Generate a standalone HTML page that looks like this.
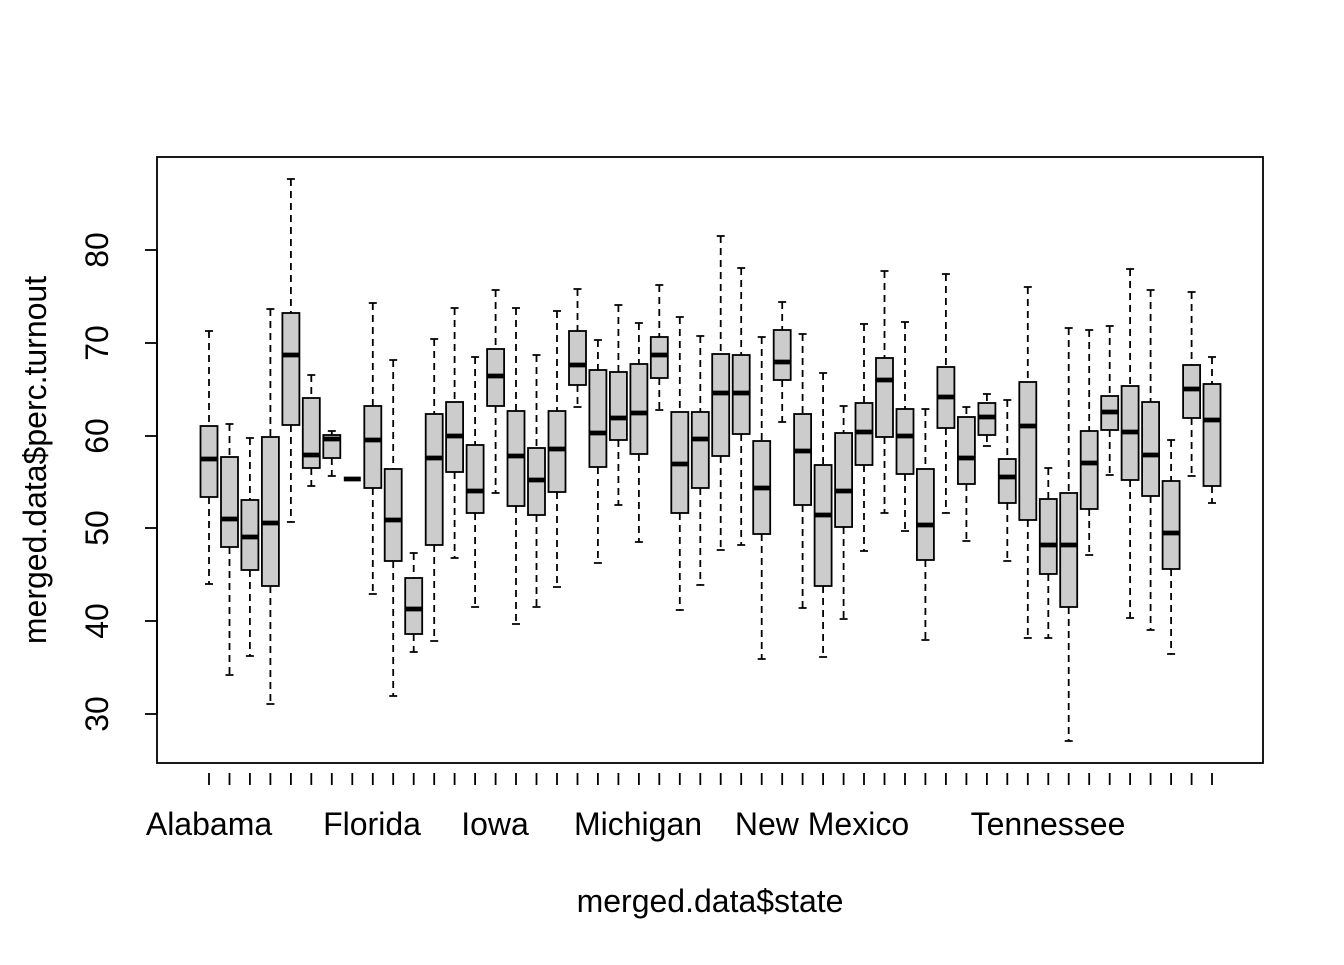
<!DOCTYPE html>
<html><head><meta charset="utf-8"><style>
body{margin:0;background:#fff}
.w{stroke:#000;stroke-width:1.8;stroke-dasharray:7,5;fill:none}
.c{stroke:#000;stroke-width:1.8;fill:none}
rect.b{fill:#cccccc;stroke:#000;stroke-width:1.8}
.m{stroke:#000;stroke-width:4.8;fill:none}
</style></head>
<body>
<svg width="1344" height="960" xmlns="http://www.w3.org/2000/svg" font-family="Liberation Sans, Arial, sans-serif">
<rect width="1344" height="960" fill="#fff"/>
<g transform="translate(209,0)"><path class="w" d="M0 331V426M0 497V584"/><path class="c" d="M-4 331H4M-4 584H4M0 773V785"/><rect class="b" x="-8.5" y="426" width="17" height="71"/><path class="m" d="M-8.5 459H8.5"/></g>
<g transform="translate(229.5,0)"><path class="w" d="M0 424V457M0 547V675"/><path class="c" d="M-4 424H4M-4 675H4M0 773V785"/><rect class="b" x="-8.5" y="457" width="17" height="90"/><path class="m" d="M-8.5 519H8.5"/></g>
<g transform="translate(249.9,0)"><path class="w" d="M0 438V500M0 570V656"/><path class="c" d="M-4 438H4M-4 656H4M0 773V785"/><rect class="b" x="-8.5" y="500" width="17" height="70"/><path class="m" d="M-8.5 537H8.5"/></g>
<g transform="translate(270.4,0)"><path class="w" d="M0 309V437M0 586V704"/><path class="c" d="M-4 309H4M-4 704H4M0 773V785"/><rect class="b" x="-8.5" y="437" width="17" height="149"/><path class="m" d="M-8.5 523H8.5"/></g>
<g transform="translate(290.9,0)"><path class="w" d="M0 179V313M0 425V522"/><path class="c" d="M-4 179H4M-4 522H4M0 773V785"/><rect class="b" x="-8.5" y="313" width="17" height="112"/><path class="m" d="M-8.5 355H8.5"/></g>
<g transform="translate(311.3,0)"><path class="w" d="M0 375V398M0 468V486"/><path class="c" d="M-4 375H4M-4 486H4M0 773V785"/><rect class="b" x="-8.5" y="398" width="17" height="70"/><path class="m" d="M-8.5 455H8.5"/></g>
<g transform="translate(331.8,0)"><path class="w" d="M0 431V435M0 458V476"/><path class="c" d="M-4 431H4M-4 476H4M0 773V785"/><rect class="b" x="-8.5" y="435" width="17" height="23"/><path class="m" d="M-8.5 439H8.5"/></g>
<g transform="translate(352.3,0)"><path class="c" d="M0 773V785"/><path class="m" d="M-8.5 479H8.5"/></g>
<g transform="translate(372.8,0)"><path class="w" d="M0 303V406M0 488V594"/><path class="c" d="M-4 303H4M-4 594H4M0 773V785"/><rect class="b" x="-8.5" y="406" width="17" height="82"/><path class="m" d="M-8.5 440H8.5"/></g>
<g transform="translate(393.2,0)"><path class="w" d="M0 360V469M0 561V696"/><path class="c" d="M-4 360H4M-4 696H4M0 773V785"/><rect class="b" x="-8.5" y="469" width="17" height="92"/><path class="m" d="M-8.5 520H8.5"/></g>
<g transform="translate(413.7,0)"><path class="w" d="M0 553V578M0 634V652"/><path class="c" d="M-4 553H4M-4 652H4M0 773V785"/><rect class="b" x="-8.5" y="578" width="17" height="56"/><path class="m" d="M-8.5 609H8.5"/></g>
<g transform="translate(434.2,0)"><path class="w" d="M0 339V414M0 545V641"/><path class="c" d="M-4 339H4M-4 641H4M0 773V785"/><rect class="b" x="-8.5" y="414" width="17" height="131"/><path class="m" d="M-8.5 458H8.5"/></g>
<g transform="translate(454.6,0)"><path class="w" d="M0 308V402M0 472V558"/><path class="c" d="M-4 308H4M-4 558H4M0 773V785"/><rect class="b" x="-8.5" y="402" width="17" height="70"/><path class="m" d="M-8.5 436H8.5"/></g>
<g transform="translate(475.1,0)"><path class="w" d="M0 357V445M0 513V607"/><path class="c" d="M-4 357H4M-4 607H4M0 773V785"/><rect class="b" x="-8.5" y="445" width="17" height="68"/><path class="m" d="M-8.5 491H8.5"/></g>
<g transform="translate(495.6,0)"><path class="w" d="M0 290V349M0 406V493"/><path class="c" d="M-4 290H4M-4 493H4M0 773V785"/><rect class="b" x="-8.5" y="349" width="17" height="57"/><path class="m" d="M-8.5 376H8.5"/></g>
<g transform="translate(516,0)"><path class="w" d="M0 308V411M0 506V624"/><path class="c" d="M-4 308H4M-4 624H4M0 773V785"/><rect class="b" x="-8.5" y="411" width="17" height="95"/><path class="m" d="M-8.5 456H8.5"/></g>
<g transform="translate(536.5,0)"><path class="w" d="M0 355V448M0 515V607"/><path class="c" d="M-4 355H4M-4 607H4M0 773V785"/><rect class="b" x="-8.5" y="448" width="17" height="67"/><path class="m" d="M-8.5 480H8.5"/></g>
<g transform="translate(557,0)"><path class="w" d="M0 311V411M0 492V587"/><path class="c" d="M-4 311H4M-4 587H4M0 773V785"/><rect class="b" x="-8.5" y="411" width="17" height="81"/><path class="m" d="M-8.5 449H8.5"/></g>
<g transform="translate(577.5,0)"><path class="w" d="M0 289V331M0 385V407"/><path class="c" d="M-4 289H4M-4 407H4M0 773V785"/><rect class="b" x="-8.5" y="331" width="17" height="54"/><path class="m" d="M-8.5 365H8.5"/></g>
<g transform="translate(597.9,0)"><path class="w" d="M0 340V370M0 467V563"/><path class="c" d="M-4 340H4M-4 563H4M0 773V785"/><rect class="b" x="-8.5" y="370" width="17" height="97"/><path class="m" d="M-8.5 433H8.5"/></g>
<g transform="translate(618.4,0)"><path class="w" d="M0 305V372M0 440V505"/><path class="c" d="M-4 305H4M-4 505H4M0 773V785"/><rect class="b" x="-8.5" y="372" width="17" height="68"/><path class="m" d="M-8.5 418H8.5"/></g>
<g transform="translate(638.9,0)"><path class="w" d="M0 323V364M0 454V542"/><path class="c" d="M-4 323H4M-4 542H4M0 773V785"/><rect class="b" x="-8.5" y="364" width="17" height="90"/><path class="m" d="M-8.5 413H8.5"/></g>
<g transform="translate(659.3,0)"><path class="w" d="M0 285V337M0 378V410"/><path class="c" d="M-4 285H4M-4 410H4M0 773V785"/><rect class="b" x="-8.5" y="337" width="17" height="41"/><path class="m" d="M-8.5 355H8.5"/></g>
<g transform="translate(679.8,0)"><path class="w" d="M0 317V412M0 513V610"/><path class="c" d="M-4 317H4M-4 610H4M0 773V785"/><rect class="b" x="-8.5" y="412" width="17" height="101"/><path class="m" d="M-8.5 464H8.5"/></g>
<g transform="translate(700.3,0)"><path class="w" d="M0 336V412M0 488V585"/><path class="c" d="M-4 336H4M-4 585H4M0 773V785"/><rect class="b" x="-8.5" y="412" width="17" height="76"/><path class="m" d="M-8.5 439H8.5"/></g>
<g transform="translate(720.7,0)"><path class="w" d="M0 236V354M0 456V550"/><path class="c" d="M-4 236H4M-4 550H4M0 773V785"/><rect class="b" x="-8.5" y="354" width="17" height="102"/><path class="m" d="M-8.5 393H8.5"/></g>
<g transform="translate(741.2,0)"><path class="w" d="M0 268V355M0 434V545"/><path class="c" d="M-4 268H4M-4 545H4M0 773V785"/><rect class="b" x="-8.5" y="355" width="17" height="79"/><path class="m" d="M-8.5 393H8.5"/></g>
<g transform="translate(761.7,0)"><path class="w" d="M0 337V441M0 534V659"/><path class="c" d="M-4 337H4M-4 659H4M0 773V785"/><rect class="b" x="-8.5" y="441" width="17" height="93"/><path class="m" d="M-8.5 488H8.5"/></g>
<g transform="translate(782.2,0)"><path class="w" d="M0 302V330M0 380V422"/><path class="c" d="M-4 302H4M-4 422H4M0 773V785"/><rect class="b" x="-8.5" y="330" width="17" height="50"/><path class="m" d="M-8.5 362H8.5"/></g>
<g transform="translate(802.6,0)"><path class="w" d="M0 334V414M0 505V608"/><path class="c" d="M-4 334H4M-4 608H4M0 773V785"/><rect class="b" x="-8.5" y="414" width="17" height="91"/><path class="m" d="M-8.5 451H8.5"/></g>
<g transform="translate(823.1,0)"><path class="w" d="M0 373V465M0 586V657"/><path class="c" d="M-4 373H4M-4 657H4M0 773V785"/><rect class="b" x="-8.5" y="465" width="17" height="121"/><path class="m" d="M-8.5 515H8.5"/></g>
<g transform="translate(843.6,0)"><path class="w" d="M0 406V433M0 527V619"/><path class="c" d="M-4 406H4M-4 619H4M0 773V785"/><rect class="b" x="-8.5" y="433" width="17" height="94"/><path class="m" d="M-8.5 491H8.5"/></g>
<g transform="translate(864,0)"><path class="w" d="M0 324V403M0 465V551"/><path class="c" d="M-4 324H4M-4 551H4M0 773V785"/><rect class="b" x="-8.5" y="403" width="17" height="62"/><path class="m" d="M-8.5 432H8.5"/></g>
<g transform="translate(884.5,0)"><path class="w" d="M0 271V358M0 437V513"/><path class="c" d="M-4 271H4M-4 513H4M0 773V785"/><rect class="b" x="-8.5" y="358" width="17" height="79"/><path class="m" d="M-8.5 380H8.5"/></g>
<g transform="translate(905,0)"><path class="w" d="M0 322V409M0 474V531"/><path class="c" d="M-4 322H4M-4 531H4M0 773V785"/><rect class="b" x="-8.5" y="409" width="17" height="65"/><path class="m" d="M-8.5 436H8.5"/></g>
<g transform="translate(925.4,0)"><path class="w" d="M0 409V469M0 560V640"/><path class="c" d="M-4 409H4M-4 640H4M0 773V785"/><rect class="b" x="-8.5" y="469" width="17" height="91"/><path class="m" d="M-8.5 525H8.5"/></g>
<g transform="translate(945.9,0)"><path class="w" d="M0 274V367M0 428V513"/><path class="c" d="M-4 274H4M-4 513H4M0 773V785"/><rect class="b" x="-8.5" y="367" width="17" height="61"/><path class="m" d="M-8.5 397H8.5"/></g>
<g transform="translate(966.4,0)"><path class="w" d="M0 407V417M0 484V541"/><path class="c" d="M-4 407H4M-4 541H4M0 773V785"/><rect class="b" x="-8.5" y="417" width="17" height="67"/><path class="m" d="M-8.5 458H8.5"/></g>
<g transform="translate(986.9,0)"><path class="w" d="M0 394V403M0 435V446"/><path class="c" d="M-4 394H4M-4 446H4M0 773V785"/><rect class="b" x="-8.5" y="403" width="17" height="32"/><path class="m" d="M-8.5 417H8.5"/></g>
<g transform="translate(1007.3,0)"><path class="w" d="M0 400V459M0 503V561"/><path class="c" d="M-4 400H4M-4 561H4M0 773V785"/><rect class="b" x="-8.5" y="459" width="17" height="44"/><path class="m" d="M-8.5 477H8.5"/></g>
<g transform="translate(1027.8,0)"><path class="w" d="M0 287V382M0 520V638"/><path class="c" d="M-4 287H4M-4 638H4M0 773V785"/><rect class="b" x="-8.5" y="382" width="17" height="138"/><path class="m" d="M-8.5 426H8.5"/></g>
<g transform="translate(1048.3,0)"><path class="w" d="M0 468V499M0 574V638"/><path class="c" d="M-4 468H4M-4 638H4M0 773V785"/><rect class="b" x="-8.5" y="499" width="17" height="75"/><path class="m" d="M-8.5 545H8.5"/></g>
<g transform="translate(1068.7,0)"><path class="w" d="M0 328V493M0 607V741"/><path class="c" d="M-4 328H4M-4 741H4M0 773V785"/><rect class="b" x="-8.5" y="493" width="17" height="114"/><path class="m" d="M-8.5 545H8.5"/></g>
<g transform="translate(1089.2,0)"><path class="w" d="M0 330V431M0 509V555"/><path class="c" d="M-4 330H4M-4 555H4M0 773V785"/><rect class="b" x="-8.5" y="431" width="17" height="78"/><path class="m" d="M-8.5 463H8.5"/></g>
<g transform="translate(1109.7,0)"><path class="w" d="M0 326V396M0 430V475"/><path class="c" d="M-4 326H4M-4 475H4M0 773V785"/><rect class="b" x="-8.5" y="396" width="17" height="34"/><path class="m" d="M-8.5 412H8.5"/></g>
<g transform="translate(1130.1,0)"><path class="w" d="M0 269V386M0 480V618"/><path class="c" d="M-4 269H4M-4 618H4M0 773V785"/><rect class="b" x="-8.5" y="386" width="17" height="94"/><path class="m" d="M-8.5 432H8.5"/></g>
<g transform="translate(1150.6,0)"><path class="w" d="M0 290V402M0 496V630"/><path class="c" d="M-4 290H4M-4 630H4M0 773V785"/><rect class="b" x="-8.5" y="402" width="17" height="94"/><path class="m" d="M-8.5 455H8.5"/></g>
<g transform="translate(1171.1,0)"><path class="w" d="M0 440V481M0 569V654"/><path class="c" d="M-4 440H4M-4 654H4M0 773V785"/><rect class="b" x="-8.5" y="481" width="17" height="88"/><path class="m" d="M-8.5 533H8.5"/></g>
<g transform="translate(1191.6,0)"><path class="w" d="M0 292V365M0 418V476"/><path class="c" d="M-4 292H4M-4 476H4M0 773V785"/><rect class="b" x="-8.5" y="365" width="17" height="53"/><path class="m" d="M-8.5 389H8.5"/></g>
<g transform="translate(1212,0)"><path class="w" d="M0 357V384M0 486V503"/><path class="c" d="M-4 357H4M-4 503H4M0 773V785"/><rect class="b" x="-8.5" y="384" width="17" height="102"/><path class="m" d="M-8.5 420H8.5"/></g>
<rect x="157" y="157" width="1106" height="606" fill="none" stroke="#000" stroke-width="1.8"/>
<g stroke="#000" stroke-width="1.8">
<line x1="157" y1="250" x2="157" y2="714"/>
<line x1="145" y1="250" x2="157" y2="250"/><line x1="145" y1="343" x2="157" y2="343"/><line x1="145" y1="436" x2="157" y2="436"/><line x1="145" y1="528" x2="157" y2="528"/><line x1="145" y1="621" x2="157" y2="621"/><line x1="145" y1="714" x2="157" y2="714"/>
</g>
<g font-size="32" text-anchor="middle" fill="#000">
<text transform="translate(108,250) rotate(-90)">80</text>
<text transform="translate(108,343) rotate(-90)">70</text>
<text transform="translate(108,436) rotate(-90)">60</text>
<text transform="translate(108,528) rotate(-90)">50</text>
<text transform="translate(108,621) rotate(-90)">40</text>
<text transform="translate(108,714) rotate(-90)">30</text>
<text transform="translate(46,460) rotate(-90)">merged.data$perc.turnout</text>
<text x="209" y="835">Alabama</text>
<text x="372" y="835">Florida</text>
<text x="495" y="835">Iowa</text>
<text x="638" y="835">Michigan</text>
<text x="822" y="835">New Mexico</text>
<text x="1048" y="835">Tennessee</text>
<text x="710" y="912">merged.data$state</text>
</g>
</svg>
</body></html>
